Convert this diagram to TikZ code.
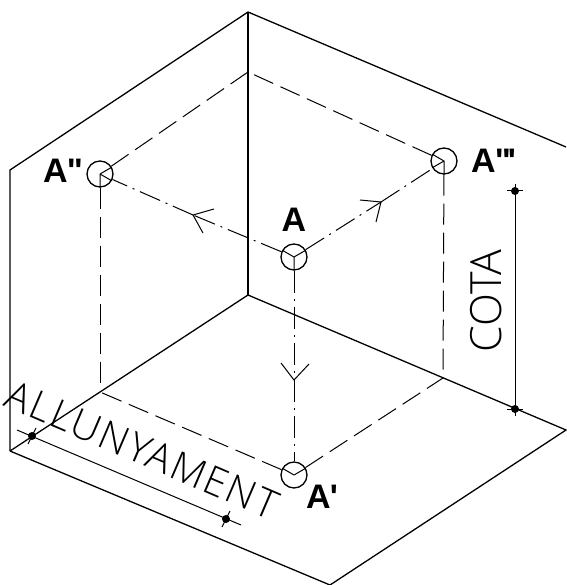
\documentclass[tikz,border=0pt]{standalone}
\usepackage{fontspec}
\newfontfamily\labelfont{Liberation Sans}
\newfontfamily\dimfont{Open Sans Light}
\tikzset{
  wall/.style={line width=1.3pt},
  thin line/.style={line width=1pt},
  hid/.style={thin line, dash pattern=on 21pt off 8pt},
  proj/.style={thin line, dash pattern=on 22pt off 6pt on 2pt off 6pt},
  pt/.style={circle, draw, line width=1.3pt, minimum size=26pt, inner sep=0pt},
  dot/.style={circle, fill, minimum size=8pt, inner sep=0pt},
  lab/.style={font=\labelfont\bfseries\fontsize{34}{34}\selectfont, inner sep=0pt},
  dim/.style={font=\dimfont\fontsize{43}{43}\selectfont, inner sep=0pt}
}
\begin{document}
\begin{tikzpicture}[x=1pt, y=-1pt]
      \useasboundingbox (0,0) rectangle (566,585);
      % box
      \coordinate (T) at (248,12);
      \coordinate (B) at (248,295);
      \coordinate (L) at (10,170);
      \coordinate (F) at (10,451);
      \coordinate (R) at (566,147);
      \coordinate (S) at (566,430);
      \coordinate (V) at (330,585);
      \coordinate (C1) at (248,72);
      \coordinate (C2) at (100,392);
      \coordinate (C3) at (443,378);
      \draw[wall] (F) -- (L) -- (T) -- (R);
      \draw[wall] (T) -- (B);
      \draw[wall] (F) -- (B) -- (S) -- (V) -- (F);
      % points
      \node[pt] (A) at (294,257) {};
      \node[pt] (A2) at (100,174) {};
      \node[pt] (A3) at (444,161) {};
      \node[pt] (A1) at (294,475) {};
      \node[lab] (tA) at (294,220) {A};
      \node[lab, anchor=west] (tA2) at (43,171) {A\kern-1pt"};
      \node[lab, anchor=west] (tA3) at (471,161) {A\kern-1pt"\kern-3pt'};
      \node[lab, anchor=west] (tA1) at (306,497) {A\kern-1pt'};
      \draw[thin line] (A.center) -- (A.150) (A.center) -- (A.30) (A.center) -- (A.270);
      \draw[thin line] (A2.center) -- (A2.30) (A2.center) -- (A2.330) (A2.center) -- (A2.270);
      \draw[thin line] (A3.center) -- (A3.150) (A3.center) -- (A3.210) (A3.center) -- (A3.270);
      \draw[thin line] (A1.center) -- (A1.150) (A1.center) -- (A1.30);
      % hidden lines
      \draw[hid] (A2) -- (C1);
      \draw[hid] (A3) -- (C1);
      \draw[hid] (A2) -- (C2);
      \draw[hid] (A3) -- (C3);
      \draw[hid] (A1) -- (C2);
      \draw[hid] (A1) -- (C3);
      % projections
      \coordinate (M2) at (193,215);
      \coordinate (M3) at (381,202);
      \coordinate (M1) at (294,380);
      \draw[proj] (A) -- (M2);
      \draw[proj] (M2) -- (A2);
      \draw[proj] (A) -- (M3);
      \draw[proj] (M3) -- (A3);
      \draw[proj] (A) -- (M1);
      \draw[proj] (M1) -- (A1);
      \coordinate (b1) at (214,209);
      \coordinate (b2) at (203,233);
      \coordinate (b3) at (360,200);
      \coordinate (b4) at (376,222);
      \coordinate (b5) at (281,363);
      \coordinate (b6) at (309,364);
      \draw[thin line] (b1) -- (M2) -- (b2);
      \draw[thin line] (b3) -- (M3) -- (b4);
      \draw[thin line] (b5) -- (M1) -- (b6);
      % cota
      \node[dot] (c1) at (515,191) {};
      \node[dot] (c2) at (515,409) {};
      \draw[thin line] (c1) -- (c2);
      \foreach \p in {c1,c2}
        \draw[thin line] ([shift={(-8,0)}]\p.center) -- ([shift={(8,0)}]\p.center)
                         ([shift={(0,-7)}]\p.center) -- ([shift={(0,7)}]\p.center);
      \node[dim, rotate=90] (tc) at (486,301) {COTA};
      % allunyament
      \node[dot] (a1) at (32,436) {};
      \node[dot] (a2) at (226,519) {};
      \coordinate (a0) at (17,430);
      \coordinate (a3) at (241,525);
      \draw[thin line] (a0) -- (a3);
      \foreach \p in {a1,a2}
        \draw[thin line] ([shift={(-4,8)}]\p.center) -- ([shift={(4,-8)}]\p.center);
      \node[dim, font=\dimfont\fontsize{40}{40}\selectfont\addfontfeatures{LetterSpace=5}, rotate=-23.2] (ta) at (142,450) {ALLUNYAMENT};
   \end{tikzpicture}
\end{document}
